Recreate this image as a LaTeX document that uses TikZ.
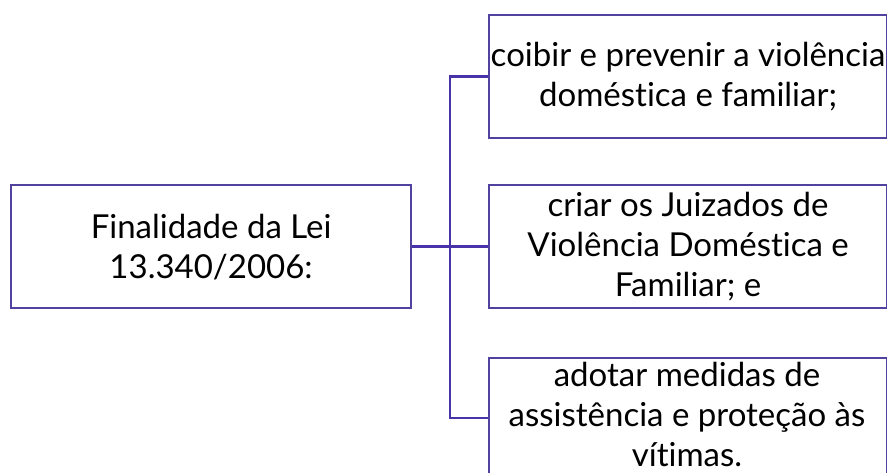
\documentclass[tikz,border=0pt]{standalone}
\usepackage{fontspec}
\setmainfont[Ligatures={NoCommon,NoRare}]{Lato}
\definecolor{boxline}{RGB}{82,66,160}
\definecolor{conn}{RGB}{72,52,168}
\begin{document}
\begin{tikzpicture}[x=1pt,y=-1pt,
  box/.style={draw=boxline,line width=2.2pt,fill=white,minimum width=398pt,minimum height=123pt,
    align=center,inner sep=0pt,font=\fontsize{33}{40}\selectfont,text=black,anchor=north west},
  conline/.style={draw=conn,line width=2.2pt}]
\useasboundingbox (0,0) rectangle (887,473);
\begin{scope}
\clip (0,0) rectangle (887,473);
\node[box,minimum width=400pt] (main) at (10,184) {Finalidade da Lei\\13.340/2006:};
\node[box] (b1) at (488,14) {coibir e prevenir a violência\\doméstica e familiar;};
\node[box] (b2) at (488,184) {criar os Juizados de\\Violência Doméstica e\\Familiar; e};
\node[box,minimum height=140pt] (b3) at (488,357) {};
\node[font=\fontsize{33}{40}\selectfont,align=center,inner sep=0pt,text=black,anchor=center] (t3) at (687,414) {adotar medidas de\\assistência e proteção às\\vítimas.};
\coordinate (j) at (450,0);
\coordinate (c3) at (488,418);
\draw[conline] (main.east) -- (b2.west);
\draw[conline] (b1.west) -| (j |- c3) -- (c3);
\end{scope}
\end{tikzpicture}
\end{document}
